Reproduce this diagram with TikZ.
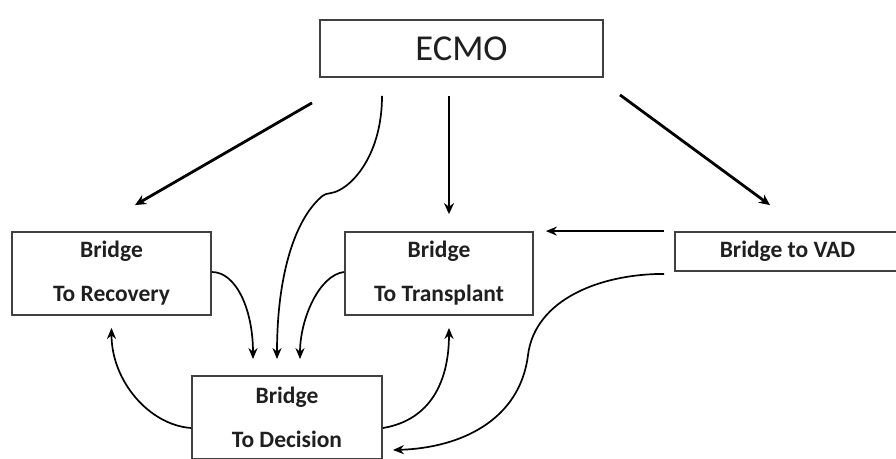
\documentclass[tikz,border=0pt]{standalone}
\usepackage{fontspec}
\setmainfont{Carlito}
\usetikzlibrary{arrows.meta}
\begin{document}
\begin{tikzpicture}[x=1pt,y=-1pt,
  box/.style={draw=black!75, line width=1.8pt, rectangle, inner sep=0pt, text=black!88},
  twoline/.style={box, align=center, font=\fontsize{23.5}{44}\selectfont\bfseries},
  thick arrow/.style={line width=2.8pt, -{Stealth[length=11pt,width=10pt]}},
  curve arrow/.style={line width=1.7pt, -{Stealth[length=11pt,width=9pt]}}
]
\useasboundingbox (0,0) rectangle (896,458);
\node[box, minimum width=283pt, minimum height=57pt, font=\fontsize{36.5}{40}\selectfont] (ecmo) at (461.5,48.5) {ECMO};
\node[twoline, minimum width=199pt, minimum height=83pt] (rec) at (111.5,273.5) {Bridge\\To Recovery};
\node[twoline, minimum width=188pt, minimum height=83pt] (tx) at (439,273.5) {Bridge\\To Transplant};
\node[box, minimum width=225pt, minimum height=39pt, font=\fontsize{23.5}{26}\selectfont\bfseries] (vad) at (787.5,251.5) {Bridge to VAD};
\node[twoline, minimum width=190pt, minimum height=83pt] (dec) at (287,417.5) {Bridge\\To Decision};

% from ECMO
\draw[thick arrow] ([xshift=-149.5pt,yshift=-25pt]ecmo.south) -- ([xshift=23.5pt,yshift=26pt]rec.north);
\draw[thick arrow] ([xshift=-12.5pt,yshift=-18pt]ecmo.south) -- ([xshift=10pt,yshift=17pt]tx.north);
\draw[thick arrow] ([xshift=158.5pt,yshift=-17pt]ecmo.south) -- ([xshift=-17.5pt,yshift=26pt]vad.north);
\draw[curve arrow] ([xshift=-79.5pt,yshift=-18pt]ecmo.south)
   .. controls +(0,58) and +(18,-6) .. (335,192)
   .. controls +(-10,3) and +(8,-8) .. (318,200)
   .. controls +(-25,25) and +(0,-80) .. ([xshift=-10pt,yshift=16pt]dec.north);

% VAD
\draw[curve arrow] ([xshift=-10pt]vad.north west) -- ([xshift=12pt]tx.north east);
\draw[curve arrow] ([xshift=-10pt,yshift=-2pt]vad.south west)
   .. controls +(-65,0) and +(7,-55) .. (528,355)
   .. controls +(-8,65) and +(68,-2) .. ([xshift=10pt,yshift=-32.5pt]dec.east);

% into Decision
\draw[curve arrow] ([yshift=1.5pt]rec.east) .. controls +(24,0) and +(0,-50) .. ([xshift=-34pt,yshift=16pt]dec.north);
\draw[curve arrow] ([yshift=1.5pt]tx.west) .. controls +(-25,3) and +(0,-40) .. ([xshift=13pt,yshift=16pt]dec.north);

% out of Decision
\draw[curve arrow] ([yshift=-10.5pt]dec.west) .. controls +(-42,-3) and +(0,53) .. ([yshift=-12pt]rec.south);
\draw[curve arrow] ([yshift=-10.5pt]dec.east) .. controls +(48,-8) and +(0,53) .. ([xshift=10pt,yshift=-12pt]tx.south);
\end{tikzpicture}
\end{document}
